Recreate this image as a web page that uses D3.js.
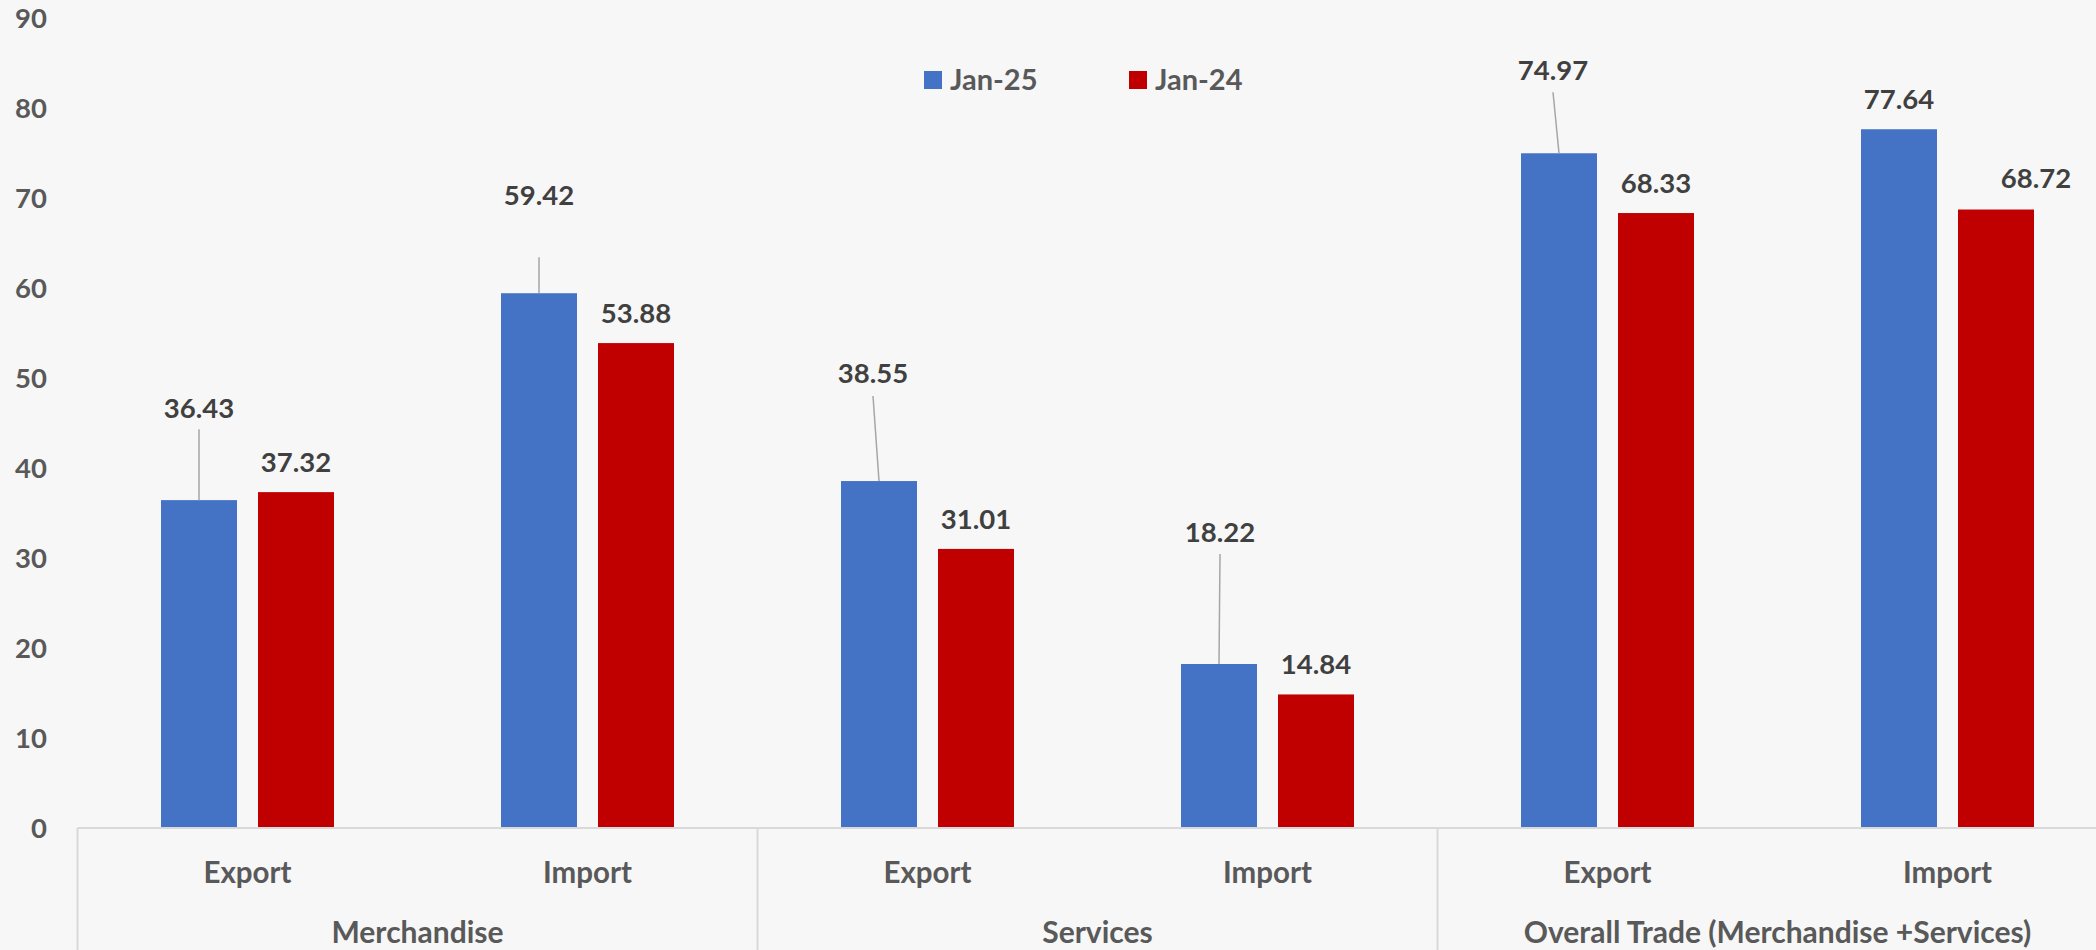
<!DOCTYPE html>
<html>
<head>
<meta charset="utf-8">
<script src="https://cdn.jsdelivr.net/npm/d3@7"></script>
<style>
  html, body { margin: 0; padding: 0; background: #f7f7f7; }
  svg { display: block; }
</style>
</head>
<body>
<div id="chart"></div>
<script>
// Chart data
const categories = ["Export", "Import", "Export", "Import", "Export", "Import"];
const groups = ["Merchandise", "Services", "Overall Trade (Merchandise +Services)"];
const seriesNames = ["Jan-25", "Jan-24"];
const jan25 = [36.43, 59.42, 38.55, 18.22, 74.97, 77.64];
const jan24 = [37.32, 53.88, 31.01, 14.84, 68.33, 68.72];
const yTicks = [0, 10, 20, 30, 40, 50, 60, 70, 80, 90];

// Layout config
const width = 2096;
const height = 950;
const x0 = 77.5;         // left edge of the category axis
const step = 340;        // width of one category slot
const zeroY = 828;
const topY = 18;
const colors = ["#4472C4", "#C00000"];
const font = "Lato, 'Open Sans', sans-serif";

// Label nudges for the moved data labels (px from bar top centre), plus leader start
const moved = {
    "0-0": { dx: 0, dy: -92, lead: 21 },
    "0-1": { dx: 0, dy: -98, lead: 62 },
    "0-2": { dx: -6, dy: -108, lead: 23 },
    "0-3": { dx: 1, dy: -132, lead: 22 },
    "0-4": { dx: -6, dy: -83, lead: 22 },
    "1-5": { dx: 40, dy: -31 }
};

const series = [jan25, jan24];

const x = d3.scaleBand()
    .domain(d3.range(categories.length))
    .range([x0, x0 + step * categories.length])
    .padding(0);

const xs = d3.scaleBand()
    .domain(d3.range(seriesNames.length))
    .range([83.5, 256.5])
    .paddingInner(21 / 97)
    .paddingOuter(0);

const y = d3.scaleLinear()
    .domain([0, 90])
    .range([zeroY, topY]);

const svg = d3.select("#chart")
    .append("svg")
    .attr("width", width)
    .attr("height", height)
    .attr("font-family", font)
    .attr("font-weight", 700);

svg.append("rect")
    .attr("width", width)
    .attr("height", height)
    .attr("fill", "#f7f7f7");

// Y tick labels (no gridlines in the original)
svg.append("g")
    .selectAll("text")
    .data(yTicks)
    .join("text")
    .attr("x", 47)
    .attr("y", d => y(d))
    .attr("dy", "0.36em")
    .attr("text-anchor", "end")
    .attr("font-size", 27.5)
    .attr("fill", "#595959")
    .text(d => d);

// Bars
const flat = series.flatMap((vals, s) => vals.map((v, i) => ({ s, i, v })));

svg.append("g")
    .selectAll("rect")
    .data(flat)
    .join("rect")
    .attr("x", d => x(d.i) + xs(d.s))
    .attr("y", d => y(d.v))
    .attr("width", xs.bandwidth())
    .attr("height", d => y(0) - y(d.v))
    .attr("fill", d => colors[d.s]);

// Leader lines
const labels = flat.map(d => {
    const cx = x(d.i) + xs(d.s) + xs.bandwidth() / 2;
    const top = y(d.v);
    const m = moved[`${d.s}-${d.i}`];
    const lx = cx + (m ? m.dx : 0);
    const ly = top + (m ? m.dy : -30);
    return { ...d, cx, top, lx, ly, lead: m && m.lead };
});

svg.append("g")
    .selectAll("line")
    .data(labels.filter(d => d.lead))
    .join("line")
    .attr("x1", d => d.lx)
    .attr("y1", d => d.ly + d.lead)
    .attr("x2", d => d.cx)
    .attr("y2", d => d.top)
    .attr("stroke", "#a6a6a6")
    .attr("stroke-width", 1.5);

// Data labels
svg.append("g")
    .selectAll("text")
    .data(labels)
    .join("text")
    .attr("x", d => d.lx)
    .attr("y", d => d.ly)
    .attr("dy", "0.36em")
    .attr("text-anchor", "middle")
    .attr("font-size", 27.5)
    .attr("fill", "#404040")
    .text(d => d3.format(".2f")(d.v));

// Category axis
const axis = svg.append("g");

axis.append("line")
    .attr("x1", x0)
    .attr("x2", width)
    .attr("y1", zeroY)
    .attr("y2", zeroY)
    .attr("stroke", "#d9d9d9")
    .attr("stroke-width", 2);

axis.selectAll(".sep")
    .data(groups)
    .join("line")
    .attr("class", "sep")
    .attr("x1", (d, g) => x(g * 2))
    .attr("x2", (d, g) => x(g * 2))
    .attr("y1", zeroY)
    .attr("y2", height)
    .attr("stroke", "#d9d9d9")
    .attr("stroke-width", 2);

axis.selectAll(".cat")
    .data(categories)
    .join("text")
    .attr("class", "cat")
    .attr("x", (d, i) => x(i) + x.bandwidth() / 2)
    .attr("y", 872)
    .attr("dy", "0.36em")
    .attr("text-anchor", "middle")
    .attr("font-size", 29.5)
    .attr("fill", "#595959")
    .text(d => d);

axis.selectAll(".grp")
    .data(groups)
    .join("text")
    .attr("class", "grp")
    .attr("x", (d, g) => x(g * 2) + x.bandwidth())
    .attr("y", 932)
    .attr("dy", "0.36em")
    .attr("text-anchor", "middle")
    .attr("font-size", 30)
    .attr("fill", "#595959")
    .text(d => d);

// Legend
const legend = svg.append("g")
    .selectAll("g")
    .data(seriesNames)
    .join("g")
    .attr("transform", (d, i) => `translate(${924 + i * 205},71)`);

legend.append("rect")
    .attr("width", 18)
    .attr("height", 18)
    .attr("fill", (d, i) => colors[i]);

legend.append("text")
    .attr("x", 26)
    .attr("y", 9)
    .attr("dy", "0.36em")
    .attr("font-size", 29)
    .attr("fill", "#595959")
    .text(d => d);
</script>
</body>
</html>
